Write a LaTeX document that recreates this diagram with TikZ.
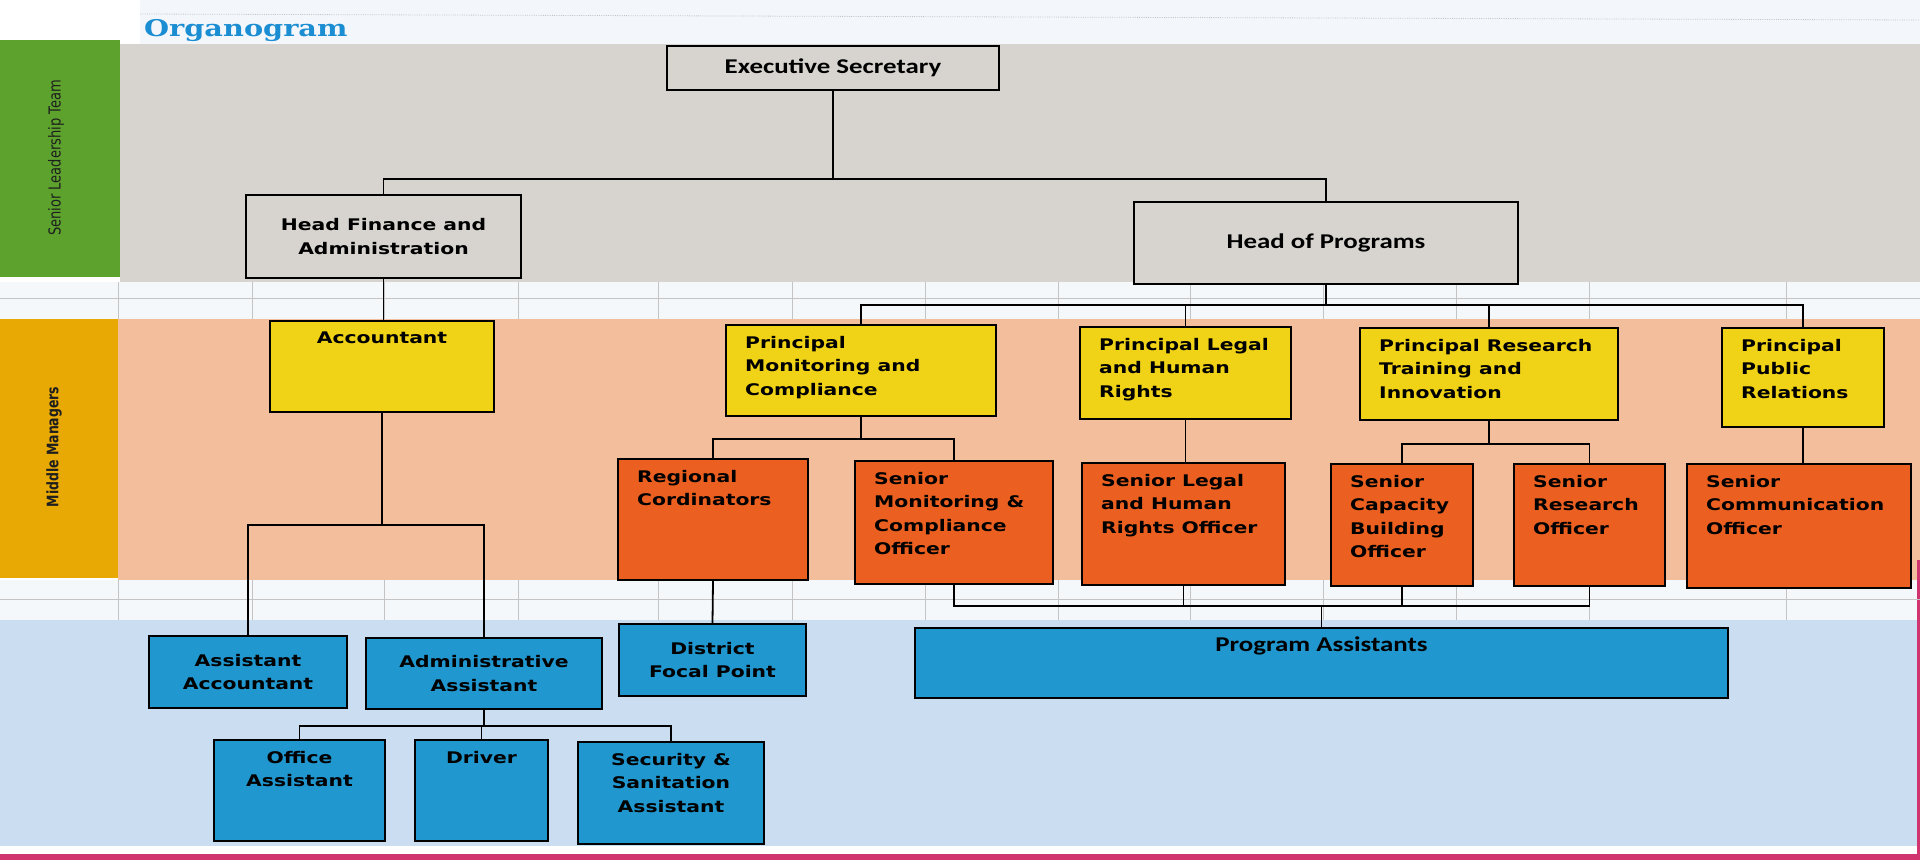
\documentclass[tikz,border=0pt]{standalone}
\usepackage{fontspec}
\usepackage{xcolor}
\usepackage{tikz}

\newfontfamily\tahfont{DejaVu Sans}[FakeStretch=1.27]
\newfontfamily\calfont{Carlito}[FakeStretch=1.28]
\newfontfamily\ttlfont{DejaVu Serif}[FakeStretch=1.25]
\newfontfamily\sidefont{DejaVu Sans}[FakeStretch=0.79]

\definecolor{sengray}{HTML}{D7D4CF}
\definecolor{bandgreen}{HTML}{5DA22D}
\definecolor{bandgold}{HTML}{E8A905}
\definecolor{bandsalmon}{HTML}{F3BE9C}
\definecolor{bandblue}{HTML}{CADDF1}
\definecolor{mgryellow}{HTML}{F0D316}
\definecolor{ofcorange}{HTML}{EB6020}
\definecolor{astblue}{HTML}{2097CF}
\definecolor{titleblue}{HTML}{1B8DD2}
\definecolor{edgepink}{HTML}{D0356F}
\definecolor{gapwhite}{HTML}{F5F8FB}
\definecolor{topblue}{HTML}{F3F7FC}
\definecolor{gridgray}{HTML}{C4C4C4}
\definecolor{sidetext}{HTML}{1E1E1E}

\begin{document}
\begin{tikzpicture}[x=1pt, y=-1pt,
  cell/.style={draw=black, line width=2pt, anchor=north west, inner sep=0pt},
  sen/.style={cell, fill=sengray},
  mgr/.style={cell, fill=mgryellow},
  ofc/.style={cell, fill=ofcorange},
  ast/.style={cell, fill=astblue},
  tah/.style={font=\tahfont\bfseries\fontsize{16}{23.5}\selectfont, align=center},
  cal/.style={font=\calfont\bfseries\fontsize{21}{25}\selectfont, align=center},
  tl/.style={tah, anchor=north west, align=left, inner sep=0pt,
             xshift=20pt, yshift=-12pt},
  tc/.style={tah, anchor=north, inner sep=0pt, yshift=-12pt},
  conn/.style={line width=1.8pt, black},
  gridln/.style={line width=0.8pt, gridgray}]

\useasboundingbox (0,0) rectangle (1920,860);

% bands
\fill[white] (0,0) rectangle (1920,860);
\fill[topblue] (140,0) rectangle (1920,44);
\draw[gridln, densely dotted] (140,14) -- (1920,20);
\fill[bandgreen] (0,40) rectangle (120,277);
\fill[sengray] (120,44) rectangle (1920,282);
\fill[gapwhite] (0,282) rectangle (1920,319);
\fill[bandgold] (0,319) rectangle (118,578);
\fill[bandsalmon] (118,319) rectangle (1920,580);
\fill[gapwhite] (0,580) rectangle (1920,620);
\fill[bandblue] (0,620) rectangle (1917,846);
\fill[edgepink] (0,854) rectangle (1920,860);
\fill[edgepink] (1917,560) rectangle (1920,860);

% grid in the gaps
\foreach \gx in {118,252,384,518,658,792,925,1058,1190,1323,1456,1589,1786}
  \draw[gridln] (\gx,282) -- (\gx,319) (\gx,580) -- (\gx,620);
\draw[gridln] (0,298) -- (1920,298) (0,599) -- (1920,599);

% title and band names
\node[font=\ttlfont\bfseries\fontsize{23}{27}\selectfont, text=titleblue,
      anchor=base west, inner sep=0pt] (title) at (144,36) {Organogram};
\node[rotate=90, font=\sidefont\fontsize{16.5}{18}\selectfont, text=sidetext]
  (slt) at (56,158) {Senior Leadership Team};
\node[rotate=90, font=\sidefont\bfseries\fontsize{15.8}{18}\selectfont, text=sidetext]
  (mm) at (54,447) {Middle Managers};

% senior leadership
\node[sen, cal, minimum width=332, minimum height=44] (es) at (666,45) {Executive Secretary};
\node[sen, tah, minimum width=275, minimum height=83] (hfa) at (245,194)
  {Head Finance and\\Administration};
\node[sen, cal, minimum width=384, minimum height=82] (hop) at (1133,201) {Head of Programs};

% middle managers
\node[mgr, minimum width=224, minimum height=91, label={[tc]north:Accountant}] (acc) at (269,320) {};
\node[mgr, minimum width=270, minimum height=91,
      label={[tl]north west:{Principal\\Monitoring and\\Compliance}}] (pmc) at (725,324) {};
\node[mgr, minimum width=211, minimum height=92,
      label={[tl]north west:{Principal Legal\\and Human\\Rights}}] (plhr) at (1079,326) {};
\node[mgr, minimum width=258, minimum height=92,
      label={[tl]north west:{Principal Research\\Training and\\Innovation}}] (prti) at (1359,327) {};
\node[mgr, minimum width=162, minimum height=99,
      label={[tl]north west:{Principal\\Public\\Relations}}] (ppr) at (1721,327) {};

\node[ofc, minimum width=190, minimum height=121,
      label={[tl]north west:{Regional\\Cordinators}}] (rc) at (617,458) {};
\node[ofc, minimum width=198, minimum height=123,
      label={[tl]north west:{Senior\\Monitoring \&\\Compliance\\Officer}}] (smco) at (854,460) {};
\node[ofc, minimum width=203, minimum height=122,
      label={[tl]north west:{Senior Legal\\and Human\\Rights Officer}}] (slhro) at (1081,462) {};
\node[ofc, minimum width=142, minimum height=122,
      label={[tl]north west:{Senior\\Capacity\\Building\\Officer}}] (scbo) at (1330,463) {};
\node[ofc, minimum width=151, minimum height=122,
      label={[tl]north west:{Senior\\Research\\Officer}}] (sro) at (1513,463) {};
\node[ofc, minimum width=224, minimum height=124,
      label={[tl]north west:{Senior\\Communication\\Officer}}] (sco) at (1686,463) {};

% support staff
\node[ast, tah, minimum width=187, minimum height=72] (dfp) at (618,623) {District\\Focal Point};
\node[ast, minimum width=813, minimum height=70,
      label={[cal, anchor=north, inner sep=0pt, yshift=-10pt]north:Program Assistants}] (pa) at (914,627) {};
\node[ast, tah, minimum width=198, minimum height=72] (aa) at (148,635) {Assistant\\Accountant};
\node[ast, tah, minimum width=236, minimum height=71] (ada) at (365,637) {Administrative\\Assistant};
\node[ast, minimum width=171, minimum height=101,
      label={[tc]north:{Office\\Assistant}}] (oa) at (213,739) {};
\node[ast, minimum width=133, minimum height=101, label={[tc]north:Driver}] (drv) at (414,739) {};
\node[ast, minimum width=186, minimum height=102,
      label={[tc]north:{Security \&\\Sanitation\\Assistant}}] (ssa) at (577,741) {};

% connectors
\draw[conn] (es.south) -- ++(0,88) -| (hfa.north);
\draw[conn] (es.south) -- ++(0,88) -| (hop.north);
\draw[conn] (hfa.south) -- (hfa.south |- acc.north);
\draw[conn] (acc.south) -- ++(0,112) -| (aa.north);
\draw[conn] (acc.south) -- ++(0,112) -| (ada.north);
\draw[conn] (ada.south) -- ++(0,16) -| (oa.north);
\draw[conn] (ada.south) -- ++(0,16) -| (drv.north);
\draw[conn] (ada.south) -- ++(0,16) -| (ssa.north);
\foreach \n in {pmc,plhr,prti,ppr}
  \draw[conn] (hop.south) -- ++(0,20) -| (\n.north);
\draw[conn] (pmc.south) -- ++(0,22) -| (rc.north);
\draw[conn] (pmc.south) -- ++(0,22) -| (smco.north);
\draw[conn] (plhr.south) -- (plhr.south |- slhro.north);
\draw[conn] (prti.south) -- ++(0,23) -| (scbo.north);
\draw[conn] (prti.south) -- ++(0,23) -| (sro.north);
\draw[conn] (ppr.south) -- (ppr.south |- sco.north);
\draw[conn] (rc.south) -- (dfp.north);
\coordinate (pabus) at ([yshift=-21pt]smco.south);
\draw[conn] (smco.south) -- (pabus) -| (sro.south);
\draw[conn] (slhro.south) -- (slhro.south |- pabus);
\draw[conn] (scbo.south) -- (scbo.south |- pabus);
\draw[conn] (pa.north) -- (pa.north |- pabus);
\end{tikzpicture}
\end{document}
